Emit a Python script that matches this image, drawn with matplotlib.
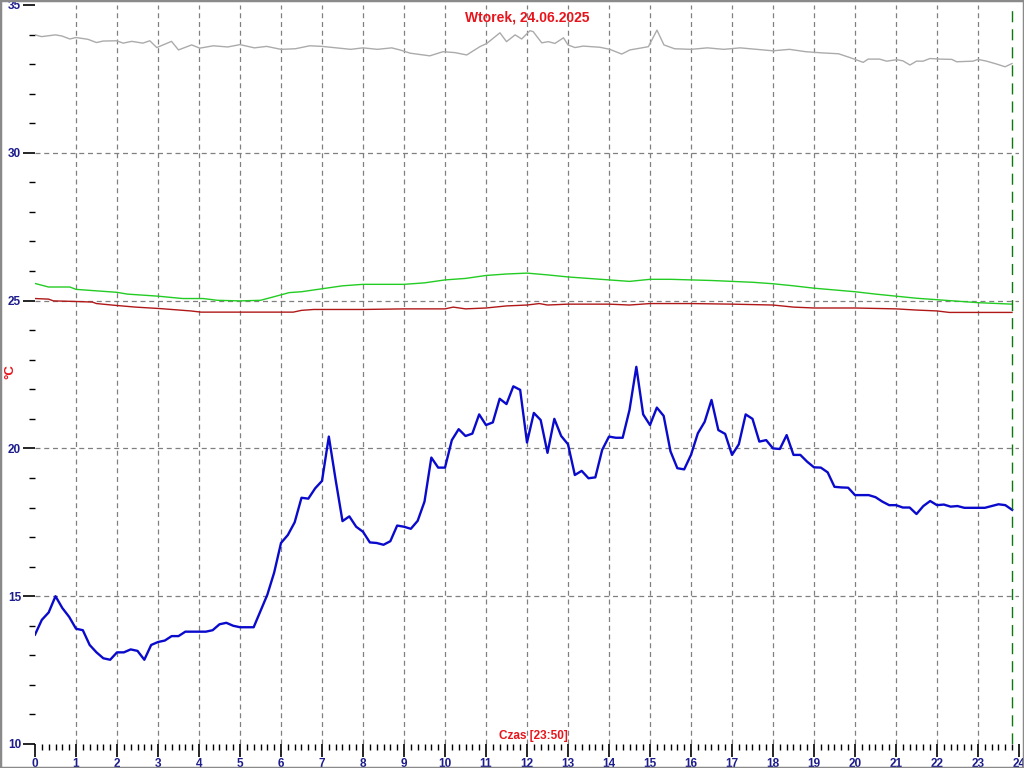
import numpy as np
import matplotlib
matplotlib.use('Agg')
import matplotlib.pyplot as plt
from matplotlib.ticker import MultipleLocator, FixedLocator
from matplotlib.patches import Rectangle

plt.rcParams['font.family'] = ['Liberation Sans', 'DejaVu Sans']

title = 'Wtorek, 24.06.2025'
xlabel = 'Czas [23:50]'
ylabel = '°C'

# blue series, one value every 10 minutes from 00:00 to 23:50
blue_v = [13.7, 14.2, 14.45, 15.0, 14.6, 14.3, 13.9, 13.85, 13.35, 13.1,
          12.9, 12.85, 13.1, 13.1, 13.2, 13.15, 12.85, 13.35, 13.45, 13.5,
          13.65, 13.65, 13.8, 13.8, 13.8, 13.8, 13.85, 14.05, 14.1, 14.0,
          13.95, 13.95, 13.95, 14.5, 15.05, 15.8, 16.8, 17.07, 17.5, 18.33,
          18.3, 18.65, 18.9, 20.4, 18.93, 17.54, 17.7, 17.35, 17.18, 16.82,
          16.8, 16.74, 16.86, 17.39, 17.35, 17.28, 17.55, 18.2, 19.69, 19.35,
          19.35, 20.28, 20.65, 20.42, 20.5, 21.15, 20.79, 20.88, 21.68, 21.5,
          22.1, 21.98, 20.2, 21.2, 20.96, 19.85, 21.0, 20.42, 20.14, 19.1,
          19.24, 18.99, 19.02, 19.95, 20.4, 20.36, 20.36, 21.3, 22.76, 21.15,
          20.79, 21.38, 21.1, 19.9, 19.33, 19.29, 19.78, 20.51, 20.9, 21.64,
          20.62, 20.49, 19.78, 20.14, 21.15, 21.0, 20.23, 20.28, 20.0, 19.98,
          20.45, 19.78, 19.78, 19.55, 19.36, 19.35, 19.19, 18.7, 18.68, 18.67,
          18.42, 18.42, 18.42, 18.35, 18.2, 18.08, 18.08, 18.0, 18.0, 17.78,
          18.05, 18.22, 18.08, 18.1, 18.03, 18.05, 17.99, 17.99, 17.99, 17.99,
          18.05, 18.11, 18.08, 17.92]
blue_h = np.arange(len(blue_v)) / 6.0

gray_h = [0, 0.16, 0.5, 0.66, 0.85, 1.0, 1.29, 1.5, 1.66, 1.99, 2.15, 2.36, 2.63,
          2.8, 2.97, 3.33, 3.5, 3.82, 4.02, 4.35, 4.7, 5.0, 5.35, 5.65, 6.0, 6.35,
          6.7, 7.0, 7.35, 7.7, 8.0, 8.35, 8.7, 8.9, 9.15, 9.63, 9.95, 10.24, 10.53,
          10.85, 11.02, 11.34, 11.5, 11.71, 11.87, 12.07, 12.15, 12.36, 12.52,
          12.68, 12.89, 13.0, 13.17, 13.37, 13.78, 14.02, 14.31, 14.51, 14.76,
          14.96, 15.17, 15.34, 15.6, 16.0, 16.4, 16.8, 17.2, 17.6, 18.0, 18.4,
          18.8, 19.2, 19.6, 19.88, 20.2, 20.32, 20.6, 20.77, 21.02, 21.17, 21.34,
          21.5, 21.66, 21.83, 22.07, 22.36, 22.48, 22.88, 23.0, 23.21, 23.46,
          23.66, 23.83]
gray_v = [33.99, 33.93, 33.99, 33.95, 33.85, 33.9, 33.84, 33.73, 33.78, 33.79,
          33.71, 33.77, 33.71, 33.79, 33.56, 33.77, 33.48, 33.65, 33.54, 33.62,
          33.58, 33.66, 33.55, 33.6, 33.5, 33.52, 33.62, 33.6, 33.55, 33.5,
          33.55, 33.5, 33.55, 33.48, 33.37, 33.28, 33.42, 33.39, 33.31, 33.59,
          33.7, 34.06, 33.76, 33.99, 33.85, 34.13, 34.1, 33.72, 33.76, 33.7,
          33.89, 33.65, 33.56, 33.61, 33.57, 33.5, 33.34, 33.48, 33.54, 33.59,
          34.15, 33.65, 33.52, 33.5, 33.55, 33.5, 33.55, 33.5, 33.45, 33.5,
          33.42, 33.38, 33.35, 33.22, 33.06, 33.17, 33.17, 33.1, 33.15, 33.11,
          32.97, 33.1, 33.1, 33.19, 33.17, 33.16, 33.08, 33.1, 33.16, 33.1,
          33.0, 32.91, 33.02]

green_h = [0, 0.33, 0.85, 1.0, 1.5, 2.0, 2.25, 3.0, 3.6, 4.1, 4.45, 5.0, 5.5, 5.8,
           6.2, 6.5, 7.0, 7.5, 8.0, 8.5, 9.0, 9.5, 10.0, 10.5, 11.0, 11.5, 12.0,
           12.5, 13.0, 13.5, 14.0, 14.5, 15.0, 15.5, 16.0, 16.5, 17.0, 17.5, 18.0,
           18.5, 19.0, 19.5, 20.0, 20.5, 21.0, 21.5, 22.0, 22.5, 23.0, 23.5, 23.83]
green_v = [25.58, 25.46, 25.46, 25.38, 25.33, 25.28, 25.22, 25.15, 25.07, 25.07,
           25.01, 24.99, 25.01, 25.12, 25.27, 25.3, 25.4, 25.5, 25.55, 25.55,
           25.55, 25.6, 25.7, 25.75, 25.85, 25.9, 25.93, 25.87, 25.8, 25.75,
           25.7, 25.65, 25.72, 25.72, 25.7, 25.68, 25.65, 25.62, 25.57, 25.5,
           25.42, 25.36, 25.3, 25.22, 25.15, 25.08, 25.03, 24.98, 24.93, 24.9, 24.88]

red_h = [0, 0.33, 0.45, 1.0, 1.4, 1.5, 1.95, 2.45, 3.05, 3.8, 4.05, 6.3, 6.5, 6.8,
         7.0, 8.0, 9.0, 10.0, 10.2, 10.5, 11.0, 11.5, 12.0, 12.3, 12.5, 13.0, 14.0,
         14.5, 15.0, 16.0, 17.0, 18.0, 18.5, 19.0, 20.0, 21.0, 21.5, 22.0, 22.3,
         23.0, 23.83]
red_v = [25.07, 25.05, 24.99, 24.97, 24.95, 24.9, 24.84, 24.78, 24.73, 24.65,
         24.61, 24.61, 24.67, 24.7, 24.7, 24.7, 24.72, 24.72, 24.78, 24.72,
         24.75, 24.82, 24.85, 24.9, 24.85, 24.88, 24.88, 24.85, 24.9, 24.9,
         24.88, 24.85, 24.78, 24.75, 24.75, 24.72, 24.68, 24.65, 24.6, 24.6, 24.6]

now_h = 23 + 50 / 60.0
x_ticks = list(range(0, 25))
y_ticks = [10, 15, 20, 25, 30, 35]

navy = '#1c1c8c'
red = '#e8141c'

fig = plt.figure(figsize=(10.24, 7.68), dpi=100)
ax = fig.add_axes([35 / 1024, 24 / 768, 984 / 1024, 739 / 768])
ax.set_xlim(0, 24)
ax.set_ylim(10, 35)

# grid
for h in range(1, 24):
    ax.axvline(h, color='#808080', lw=0.9, ls=(0, (4, 3)), zorder=1)
for t in [15, 20, 25, 30]:
    ax.axhline(t, color='#808080', lw=0.9, ls=(0, (4, 3)), zorder=1)

ax.plot(gray_h, gray_v, color='#ababab', lw=1.0, zorder=3)
ax.plot(green_h, green_v, color='#22cc22', lw=1.0, zorder=3)
ax.plot(red_h, red_v, color='#b01818', lw=1.0, zorder=3)
ax.plot(blue_h, blue_v, color='#0a0acc', lw=1.7, zorder=4)

ax.axvline(now_h, color='#0a7a0a', lw=1.0, ls=(0, (8, 5)), zorder=5)

for s in ax.spines.values():
    s.set_visible(False)

ax.xaxis.set_major_locator(FixedLocator(x_ticks))
ax.xaxis.set_minor_locator(MultipleLocator(1 / 6))
ax.yaxis.set_major_locator(FixedLocator(y_ticks))
ax.yaxis.set_minor_locator(MultipleLocator(1))
ax.tick_params(axis='both', which='major', direction='out', length=9, width=1.2,
               color='black', labelcolor=navy, labelsize=8.5, pad=1)
ax.tick_params(axis='both', which='minor', direction='out', length=4, width=1.0,
               color='black')
for lab in ax.get_xticklabels() + ax.get_yticklabels():
    lab.set_fontweight('bold')

ax.text(0.5, 0.993, title, transform=ax.transAxes, ha='center', va='top',
        color=red, fontsize=10, fontweight='bold')
ax.text(0.506, 0.003, xlabel, transform=ax.transAxes, ha='center', va='bottom',
        color=red, fontsize=8.5, fontweight='bold')
fig.text(10 / 1024, 1 - 372 / 768, ylabel, rotation=90, ha='center', va='center',
         color=red, fontsize=9.5, fontweight='bold')

fig.patches.append(Rectangle((0, 0), 1, 1, transform=fig.transFigure, fill=False,
                             edgecolor='#8a8a8a', lw=2.5))

fig.savefig('out.png', dpi=100)
